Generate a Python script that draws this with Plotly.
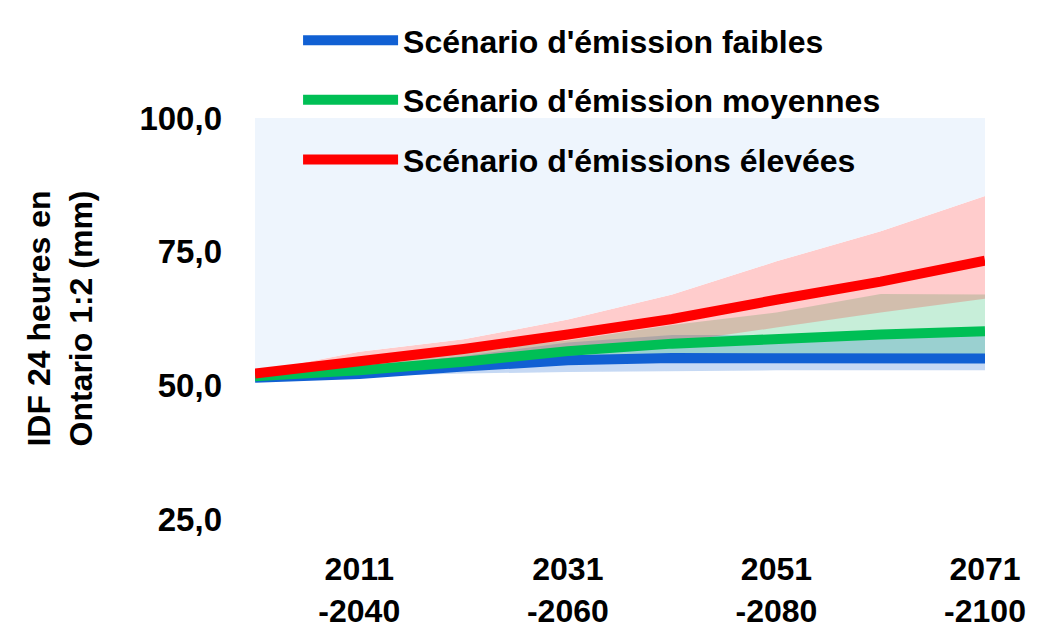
import plotly.graph_objects as go

# ---- data ----
periodes = ["2001-2030", "2011-2040", "2021-2050", "2031-2060",
            "2041-2070", "2051-2080", "2061-2090", "2071-2100"]
tick_idx = [1, 3, 5, 7]
tick_labels = ["2011<br>-2040", "2031<br>-2060", "2051<br>-2080", "2071<br>-2100"]
y_ticks = [25, 50, 75, 100]

faible = [51.4, 52.1, 53.5, 54.7, 55.1, 55.1, 55.0, 55.0]
faible_min = [51.2, 51.7, 52.2, 52.5, 52.7, 52.8, 52.8, 52.8]
faible_max = [51.6, 53.3, 55.5, 58.0, 59.4, 59.4, 59.5, 59.5]

moyen = [51.7, 52.8, 54.4, 56.4, 57.8, 58.8, 59.5, 60.1]
moyen_min = [51.5, 52.3, 53.5, 54.8, 55.3, 55.3, 55.3, 55.3]
moyen_max = [51.9, 54.0, 56.3, 58.4, 61.3, 63.6, 67.1, 67.0]

eleve = [52.2, 54.3, 56.8, 59.5, 62.4, 66.0, 69.4, 73.3]
eleve_min = [52.0, 53.5, 55.0, 56.5, 58.0, 60.8, 63.6, 66.2]
eleve_max = [52.5, 56.3, 58.6, 62.3, 67.0, 73.2, 78.8, 85.4]

plafond = [100] * len(periodes)

names = ["Scénario d'émission faibles", "Scénario d'émission moyennes",
         "Scénario d'émissions élevées"]
# ---- end data ----

x = list(range(len(periodes)))
FONT = "Liberation Sans, Arial, sans-serif"
FS = 32

fig = go.Figure()

bands = [
    (faible_min, faible_max, "rgba(16,96,208,0.24)"),
    (moyen_min, moyen_max, "rgba(0,176,80,0.22)"),
    (eleve_min, eleve_max, "rgba(255,0,0,0.20)"),
]
for lo, hi, col in bands:
    fig.add_trace(go.Scatter(x=x, y=lo, mode="lines", line=dict(width=0),
                             showlegend=False, hoverinfo="skip"))
    fig.add_trace(go.Scatter(x=x, y=hi, mode="lines", line=dict(width=0),
                             fill="tonexty", fillcolor=col,
                             showlegend=False, hoverinfo="skip"))

# light blue area above the highest envelope
fig.add_trace(go.Scatter(x=x, y=plafond, mode="lines", line=dict(width=0),
                         fill="tonexty", fillcolor="#EEF5FD",
                         showlegend=False, hoverinfo="skip"))

lines = [(faible, "#1160D3"), (moyen, "#00BF55"), (eleve, "#FF0000")]
for i, ((vals, col), nm) in enumerate(zip(lines, names)):
    fig.add_trace(go.Scatter(x=x, y=vals, mode="lines", name=nm,
                             line=dict(color=col, width=10),
                             legendgroup=f"g{i}"))

fig.update_layout(
    width=1059, height=642,
    margin=dict(l=255, r=74, t=118, b=123, autoexpand=False),
    paper_bgcolor="white", plot_bgcolor="white",
    separators=", ",
    font=dict(family=FONT, size=FS, color="black"),
    showlegend=True,
    legend=dict(
        x=0.059, y=1.262, xanchor="left", yanchor="top",
        bgcolor="rgba(0,0,0,0)", itemwidth=95,
        font=dict(family=FONT, size=FS, color="black", weight="bold"),
        tracegroupgap=15, traceorder="grouped",
    ),
    xaxis=dict(
        range=[0, 7], tickvals=tick_idx, ticktext=tick_labels,
        showgrid=False, zeroline=False, showline=False,
        ticklabelstandoff=28,
        tickfont=dict(family=FONT, size=FS, color="black", weight="bold"),
    ),
    yaxis=dict(
        range=[25, 100], tickvals=y_ticks, tickformat=".1f",
        showgrid=False, zeroline=False, showline=False,
        ticklabelstandoff=32,
        tickfont=dict(family=FONT, size=33, color="black", weight="bold"),
        title=dict(text="IDF 24 heures en<br>Ontario 1:2 (mm)",
                   font=dict(family=FONT, size=FS, color="black", weight="bold"),
                   standoff=37),
    ),
)

fig.write_html("out.html", config={"displayModeBar": False},
               post_script="document.body.style.margin='0';document.body.style.overflow='hidden';")
